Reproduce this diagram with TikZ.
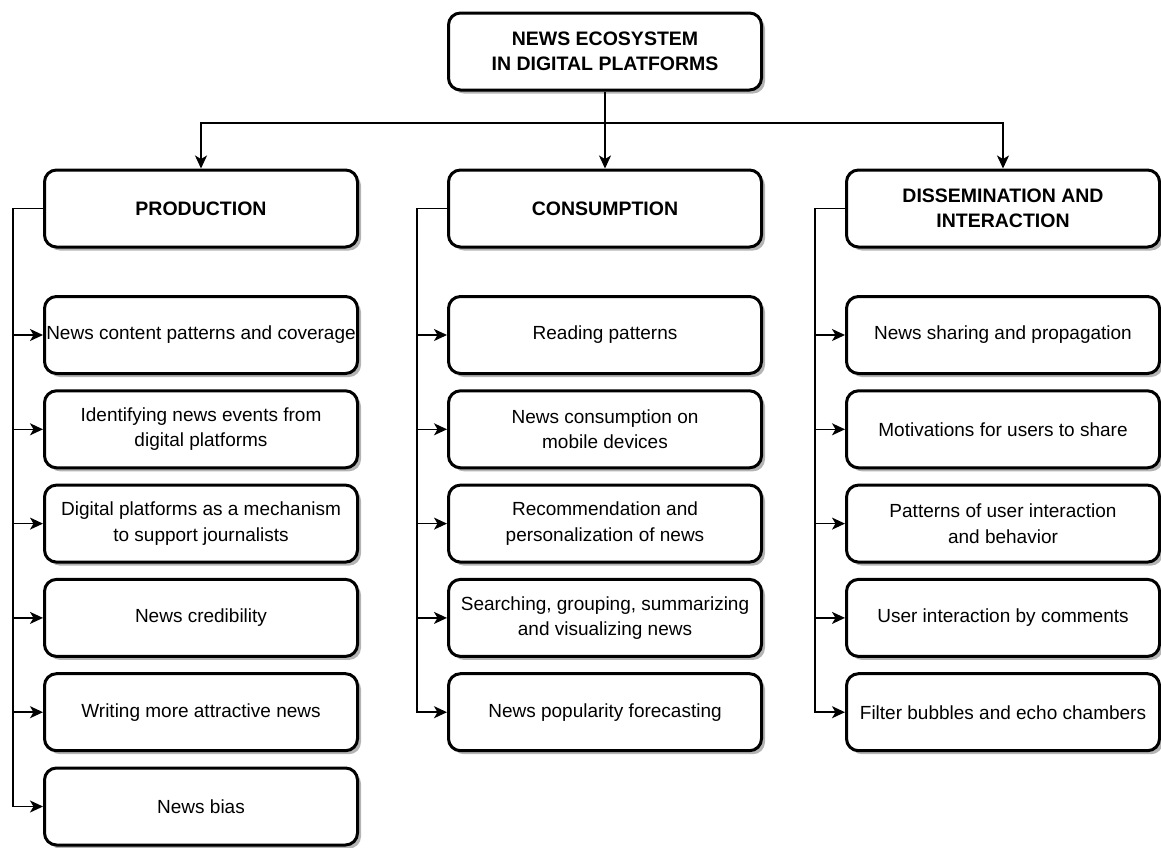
\documentclass[tikz,border=0pt]{standalone}
\usepackage{fontspec}
\setmainfont{Liberation Sans}
\definecolor{shadowgray}{RGB}{180, 180, 180}
\usetikzlibrary{arrows.meta, positioning, shadows}
\tikzstyle{itembox} = [draw=black, line width=3pt, fill=white, rounded corners=12pt,
                       minimum width=313pt, minimum height=77pt, inner xsep=1pt, align=center,
                       font=\fontsize{19}{25.5}\selectfont,
                       drop shadow={shadow xshift=3.5pt, shadow yshift=-3.5pt, fill=shadowgray, opacity=1}]
\tikzstyle{headbox} = [itembox, font=\fontsize{19.5}{25.5}\selectfont\bfseries]
\tikzstyle{link} = [line width=1.5pt, -{Stealth[length=13pt, width=12pt, inset=3.5pt]}]

\begin{document}
\begin{tikzpicture}[x=1pt, y=-1pt]
                    \useasboundingbox (0, 0) rectangle (1161, 847);
                    % root and the three areas
                    \node[headbox] (eco) at (605, 51.5) {NEWS ECOSYSTEM\\IN DIGITAL PLATFORMS};
                    \node[headbox] (prod) at (201, 208.5) {PRODUCTION};
                    \node[headbox] (cons) at (605, 208.5) {CONSUMPTION};
                    \node[headbox] (diss) at (1003, 208.5) {DISSEMINATION AND\\INTERACTION};
                    \coordinate (hub) at (605, 123);
                    \draw[link] (eco) -- (cons);
                    \draw[link] (hub) -| (prod);
                    \draw[link] (hub) -| (diss);
                    % production
                    \node[itembox] (p1) at (201, 335) {News content patterns and coverage};
                    \node[itembox] (p2) at (201, 429.3) {Identifying news events from\\digital platforms};
                    \node[itembox] (p3) at (201, 523.6) {Digital platforms as a mechanism\\to support journalists};
                    \node[itembox] (p4) at (201, 617.9) {News credibility};
                    \node[itembox] (p5) at (201, 712.2) {Writing more attractive news};
                    \node[itembox] (p6) at (201, 806.5) {News bias};
                    \foreach \i in {1,...,6}
                        \draw[link] (prod.west) -- ++(-30, 0) |- (p\i.west);
                    % consumption
                    \node[itembox] (c1) at (605, 335) {Reading patterns};
                    \node[itembox] (c2) at (605, 429.3) {News consumption on\\mobile devices};
                    \node[itembox] (c3) at (605, 523.6) {Recommendation and\\personalization of news};
                    \node[itembox] (c4) at (605, 617.9) {Searching, grouping, summarizing\\and visualizing news};
                    \node[itembox] (c5) at (605, 712.2) {News popularity forecasting};
                    \foreach \i in {1,...,5}
                        \draw[link] (cons.west) -- ++(-30, 0) |- (c\i.west);
                    % dissemination and interaction
                    \node[itembox] (d1) at (1003, 335) {News sharing and propagation};
                    \node[itembox] (d2) at (1003, 429.3) {Motivations for users to share};
                    \node[itembox] (d3) at (1003, 523.6) {Patterns of user interaction\\and behavior};
                    \node[itembox] (d4) at (1003, 617.9) {User interaction by comments};
                    \node[itembox] (d5) at (1003, 712.2) {Filter bubbles and echo chambers};
                    \foreach \i in {1,...,5}
                        \draw[link] (diss.west) -- ++(-30, 0) |- (d\i.west);
                \end{tikzpicture}
\end{document}
